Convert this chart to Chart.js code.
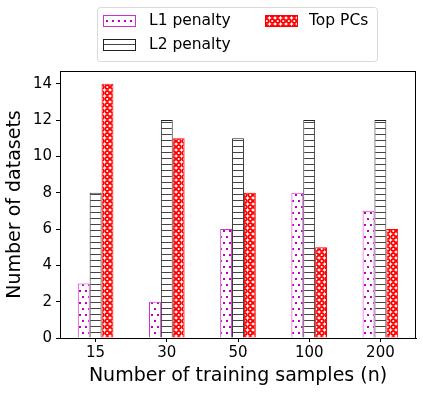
<!DOCTYPE html>
<html><head><meta charset="utf-8">
<script src="https://cdn.jsdelivr.net/npm/chart.js@4"></script>
<style>html,body{margin:0;padding:0;background:#fff}</style>
</head><body>
<canvas id="c" width="423" height="393"></canvas>
<script>
const categories = ['15', '30', '50', '100', '200'];
const l1Penalty = [3, 2, 6, 8, 7];
const l2Penalty = [8, 12, 11, 12, 12];
const topPCs = [14, 11, 8, 5, 6];
const yTicks = [0, 2, 4, 6, 8, 10, 12, 14];
const seriesNames = ['L1 penalty', 'L2 penalty', 'Top PCs'];
const xTitle = 'Number of training samples (n)';
const yTitle = 'Number of datasets';

const FONT = "'DejaVu Sans', sans-serif";

function makeTile(w, h, draw) {
  const c = document.createElement('canvas');
  c.width = w; c.height = h;
  const g = c.getContext('2d');
  draw(g);
  return document.getElementById('c').getContext('2d').createPattern(c, 'repeat');
}
const dotPattern = makeTile(6, 12, g => {
  g.fillStyle = '#fff'; g.fillRect(0, 0, 6, 12);
  g.fillStyle = '#c000c0';
  g.fillRect(1, 2, 2, 2);
  g.fillRect(4, 8, 2, 2);
});
const linePattern = makeTile(8, 6, g => {
  g.fillStyle = '#fff'; g.fillRect(0, 0, 8, 6);
  g.fillStyle = '#444';
  g.fillRect(0, 2, 8, 1);
});
const circlePattern = makeTile(11, 12, g => {
  g.fillStyle = '#fff'; g.fillRect(0, 0, 11, 12);
  g.strokeStyle = '#ff0000'; g.lineWidth = 1.8;
  [[2.75, 3], [8.25, 3], [2.75, 9], [8.25, 9]].forEach(([x, y]) => {
    g.beginPath(); g.arc(x, y, 2.0, 0, Math.PI * 2); g.stroke();
  });
});

const fills = [dotPattern, linePattern, circlePattern];
const edges = ['#cc33cc', '#222', '#ff0000'];
const seriesData = [l1Penalty, l2Penalty, topPCs];

const framePlugin = {
  id: 'frame',
  afterDraw(chart) {
    const {ctx, chartArea: a} = chart;
    ctx.save();
    ctx.strokeStyle = '#000'; ctx.lineWidth = 1;
    ctx.strokeRect(Math.round(a.left) + 0.5, Math.round(a.top) + 0.5,
      Math.round(a.right - a.left) - 1, Math.round(a.bottom - a.top));
    // legend
    const bx = 97.5, by = 7.5, bw = 280, bh = 54;
    ctx.fillStyle = 'rgba(255,255,255,0.85)';
    ctx.strokeStyle = '#d9d9d9';
    ctx.beginPath();
    ctx.roundRect(bx, by, bw, bh, 3);
    ctx.fill(); ctx.stroke();
    const items = [
      {x: 103, y: 15, tx: 149},
      {x: 103, y: 39, tx: 149},
      {x: 265, y: 15, tx: 309}
    ];
    ctx.font = '15.5px ' + FONT;
    ctx.textBaseline = 'middle';
    ctx.textAlign = 'left';
    items.forEach((it, i) => {
      ctx.fillStyle = fills[i];
      ctx.fillRect(it.x, it.y, 33, 11);
      ctx.strokeStyle = edges[i]; ctx.lineWidth = 1;
      ctx.strokeRect(it.x + 0.5, it.y + 0.5, 32, 11);
      ctx.fillStyle = '#000';
      ctx.fillText(seriesNames[i], it.tx, it.y + 6);
    });
    ctx.restore();
  }
};

new Chart(document.getElementById('c'), {
  type: 'bar',
  data: {
    labels: categories,
    datasets: seriesData.map((d, i) => ({
      label: seriesNames[i],
      data: d,
      backgroundColor: fills[i],
      borderColor: edges[i],
      borderWidth: 1,
      borderSkipped: 'bottom',
      categoryPercentage: 0.5,
      barPercentage: 1.0
    }))
  },
  options: {
    responsive: false,
    devicePixelRatio: 1,
    animation: false,
    layout: {padding: {top: 71, right: 7, left: 0, bottom: 0}},
    plugins: {legend: {display: false}, tooltip: {enabled: false}},
    scales: {
      x: {
        afterFit(s) { s.height = 55; },
        grid: {display: true, drawOnChartArea: false, offset: false, tickLength: 4, color: '#000'},
        border: {display: true, color: '#000'},
        ticks: {color: '#000', font: {family: FONT, size: 15}, padding: 2},
        title: {display: true, text: xTitle, color: '#000', font: {family: FONT, size: 19}, padding: {top: 0, bottom: 6}}
      },
      y: {
        min: 0, max: 14.7,
        afterFit(s) { s.width = 60; },
        afterBuildTicks(s) { s.ticks = yTicks.map(v => ({value: v})); },
        grid: {display: true, drawOnChartArea: false, tickLength: 4, color: '#000'},
        border: {display: true, color: '#000'},
        ticks: {color: '#000', font: {family: FONT, size: 15}, padding: 4},
        title: {display: true, text: yTitle, color: '#000', font: {family: FONT, size: 19}, padding: {top: 4, bottom: 0}}
      }
    }
  },
  plugins: [framePlugin]
});
</script>
</body></html>
